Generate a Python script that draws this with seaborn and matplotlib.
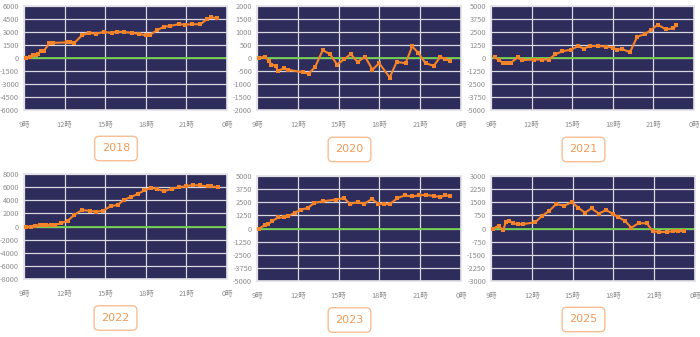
import matplotlib
matplotlib.use("Agg")
import matplotlib.pyplot as plt
import seaborn as sns
import pandas as pd
import numpy as np

# ---------------- data ----------------
years = ["2018", "2020", "2021", "2022", "2023", "2025"]
y_limits = [6000, 2000, 5000, 8000, 5000, 3000]

hours_2018 = [9.15, 9.44, 9.64, 9.89, 10.06, 10.23, 10.48, 10.88, 11.17, 12.16, 12.41, 12.70,
              13.27, 13.77, 14.33, 14.88, 15.49, 15.86, 16.36, 16.98, 17.47, 18.01, 18.33,
              18.83, 19.32, 19.81, 20.43, 20.93, 21.42, 22.04, 22.53, 22.83, 23.27]
vals_2018 = [0, 150, 400, 300, 500, 800, 850, 1700, 1750, 1800, 1800, 1700,
             2600, 2900, 2800, 3000, 2900, 3050, 3000, 2900, 2800, 2600, 2700,
             3200, 3600, 3700, 3900, 3850, 3900, 3900, 4500, 4700, 4600]

hours_2020 = [9.15, 9.56, 9.88, 10.05, 10.37, 10.54, 10.95, 11.27, 12.37, 12.80, 13.27, 13.83,
              14.37, 14.88, 15.41, 15.90, 16.39, 16.95, 17.49, 17.98, 18.76, 19.27, 19.93,
              20.41, 20.85, 21.39, 22.00, 22.49, 22.80, 23.22]
vals_2020 = [0, 50, -100, -250, -300, -500, -400, -450, -550, -600, -350, 300,
             150, -250, -50, 150, -150, 50, -450, -200, -750, -150, -200,
             450, 200, -200, -300, 50, -50, -100]

hours_2021 = [9.27, 9.58, 9.87, 10.16, 10.48, 10.96, 11.28, 12.17, 12.78, 13.26, 13.75, 14.28,
              14.91, 15.44, 15.85, 16.29, 16.89, 17.50, 17.98, 18.30, 18.71, 19.27, 19.80,
              20.40, 20.82, 21.32, 21.93, 22.46, 22.70]
vals_2021 = [100, -200, -450, -500, -450, 50, -200, -150, -150, -150, 350, 650,
             800, 1150, 900, 1150, 1150, 1100, 1000, 800, 850, 550, 2050,
             2300, 2700, 3200, 2750, 2850, 3150]

hours_2022 = [9.17, 9.54, 9.84, 10.15, 10.40, 10.65, 10.96, 11.26, 11.75, 12.24, 12.73, 13.27,
              13.84, 14.33, 14.82, 15.43, 15.93, 16.42, 16.91, 17.40, 17.89, 18.39, 18.83,
              19.37, 19.91, 20.47, 20.96, 21.46, 22.02, 22.56, 22.85, 23.30]
vals_2022 = [0, -50, 100, 250, 300, 250, 250, 250, 500, 900, 1800, 2500,
             2400, 2250, 2400, 3100, 3300, 4100, 4500, 4950, 5500, 5900, 5700,
             5400, 5750, 5950, 6150, 6300, 6250, 6100, 6100, 6000]

hours_2023 = [9.15, 9.56, 9.80, 10.12, 10.54, 10.95, 11.27, 11.76, 12.24, 12.73, 13.22, 13.88,
              14.80, 15.41, 15.83, 16.39, 16.88, 17.44, 17.93, 18.34, 18.76, 19.32, 19.88,
              20.41, 20.90, 21.39, 22.00, 22.49, 22.85, 23.22]
vals_2023 = [0, 300, 400, 700, 1050, 1050, 1150, 1500, 1800, 1950, 2450, 2600,
             2750, 2900, 2350, 2500, 2350, 2800, 2350, 2350, 2300, 2900, 3150,
             3050, 3150, 3200, 3100, 3000, 3150, 3100]

hours_2025 = [9.17, 9.56, 9.90, 10.10, 10.34, 10.59, 10.95, 11.32, 12.24, 12.73, 13.27, 13.80,
              14.37, 14.93, 15.41, 15.90, 16.39, 16.93, 17.46, 17.95, 18.34, 18.83, 19.32,
              19.85, 20.46, 20.88, 21.37, 21.93, 22.41, 22.78, 23.20]
vals_2025 = [0, 150, -100, 400, 450, 300, 250, 250, 350, 700, 1000, 1400,
             1300, 1500, 1200, 900, 1150, 850, 1050, 850, 650, 450, 50,
             300, 300, -150, -200, -200, -150, -150, -150]

x_ticks = [9, 12, 15, 18, 21, 24]
x_tick_labels = ["9時", "12時", "15時", "18時", "21時", "0時"]

series = [(hours_2018, vals_2018), (hours_2020, vals_2020), (hours_2021, vals_2021),
          (hours_2022, vals_2022), (hours_2023, vals_2023), (hours_2025, vals_2025)]

# ---------------- style ----------------
sns.set_theme(style="white")
plt.rcParams['font.family'] = ['Noto Sans CJK JP', 'DejaVu Sans']

W, H = 700, 337
fig = plt.figure(figsize=(W / 100, H / 100), dpi=100)
fig.patch.set_facecolor("white")

# axes boxes in pixels: left, top, right, bottom
boxes = [(24, 6, 227, 110), (257, 6, 461, 110), (491, 6, 694, 110),
         (24, 174, 227, 279), (257, 176, 461, 281), (491, 176, 695, 281)]
buttons = [(116, 148.5), (349.5, 149.5), (583.5, 149.5),
           (115.5, 318), (349.5, 320), (583.5, 319.5)]

bg = "#2E2C5A"
orange = "#F5832A"
green = "#6FCF4A"
grid_c = "#D8D8E0"
tick_c = "#8C8C8C"

for i, (year, lim, (hrs, vals)) in enumerate(zip(years, y_limits, series)):
    l, t, r, b = boxes[i]
    ax = fig.add_axes([l / W, 1 - b / H, (r - l) / W, (b - t) / H])
    ax.set_facecolor(bg)
    df = pd.DataFrame({"hour": hrs, "value": vals})
    ax.axhline(0, color=green, lw=1.3, zorder=2)
    sns.lineplot(data=df, x="hour", y="value", ax=ax, color=orange, lw=1.5,
                 marker="s", markersize=2.3, markeredgewidth=0, zorder=3)
    ax.set_xlim(9, 24)
    ax.set_ylim(-lim, lim)
    yt = np.linspace(-lim, lim, 9)
    ax.set_yticks(yt)
    ax.set_yticklabels([f"{int(v)}" for v in yt])
    ax.set_xticks(x_ticks)
    ax.set_xticklabels(x_tick_labels)
    ax.grid(True, color=grid_c, lw=0.9, zorder=1)
    ax.set_axisbelow(True)
    ax.set_xlabel("")
    ax.set_ylabel("")
    ax.tick_params(axis="both", labelsize=5.3, colors=tick_c, length=2, width=0.6, pad=1.5)
    ax.tick_params(axis="x", pad=6)
    for s in ax.spines.values():
        s.set_color("#E2E2E8")
        s.set_linewidth(1.2)

    bx, by = buttons[i]
    fig.text(bx / W, 1 - by / H, year, ha="center", va="center", fontsize=8,
             color="#F39A55", family=["DejaVu Sans"],
             bbox=dict(boxstyle="round,pad=0.65,rounding_size=0.4",
                       fc="white", ec="#F8BE92", lw=1.0))

fig.savefig("out.png", dpi=100, facecolor="white")
